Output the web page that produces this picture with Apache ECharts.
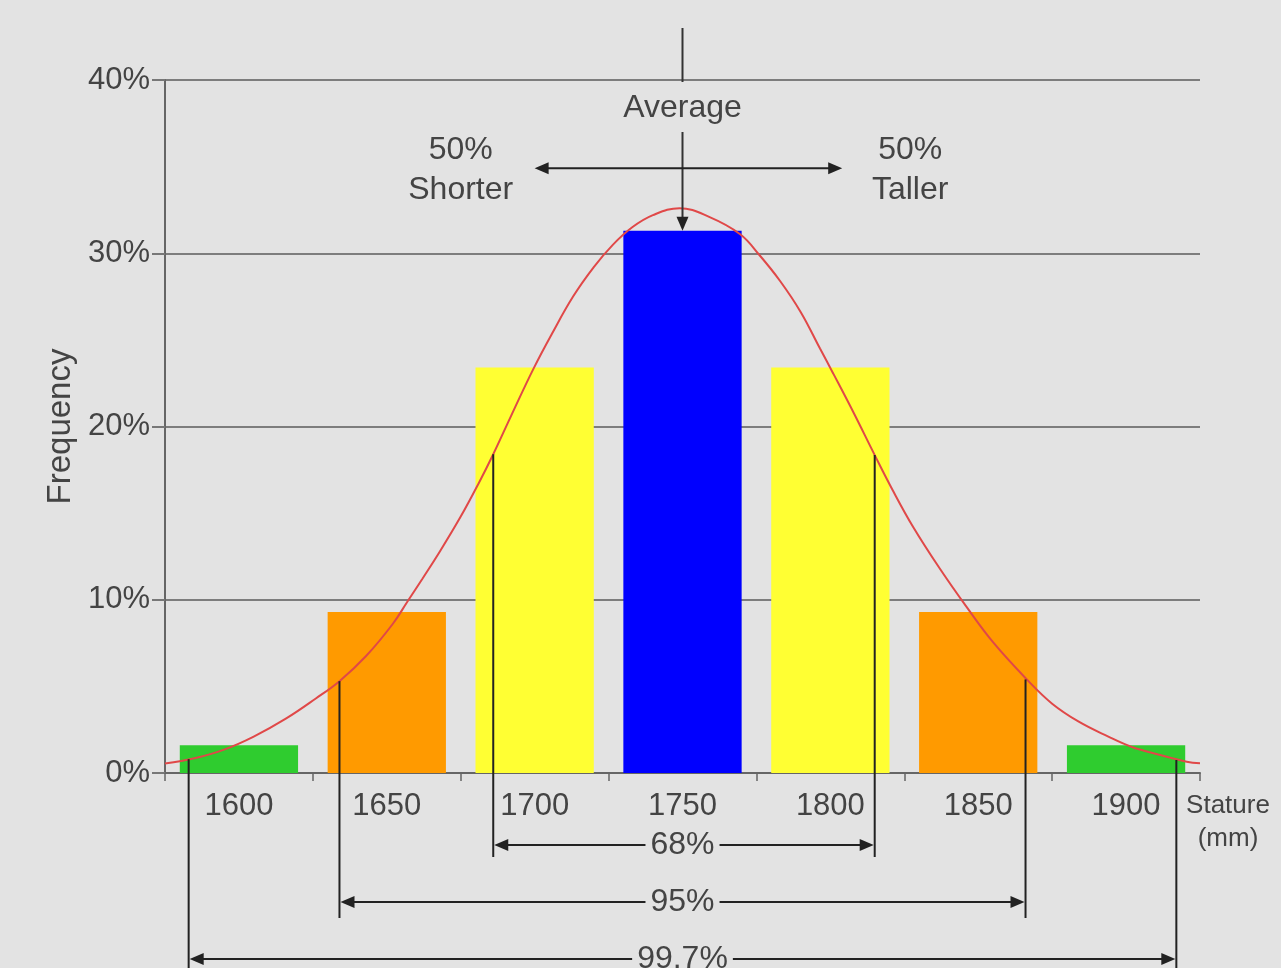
<!DOCTYPE html>
<html>
<head>
<meta charset="utf-8">
<script src="https://cdn.jsdelivr.net/npm/echarts@6/dist/echarts.min.js"></script>
<style>
  html, body { margin: 0; padding: 0; background: #e3e3e3; }
  #chart { width: 1281px; height: 968px; }
</style>
</head>
<body>
<div id="chart"></div>
<script>
// ---- data ----
const categories = ['1600', '1650', '1700', '1750', '1800', '1850', '1900'];
const frequency = [1.6, 9.3, 23.4, 31.3, 23.4, 9.3, 1.6];
const yTicks = [0, 10, 20, 30, 40];
// normal curve: stature (mm) and frequency (%)
const curveX = [1575, 1585, 1595, 1605, 1616, 1626, 1634, 1643, 1652, 1657, 1662, 1668, 1675, 1681, 1686, 1692, 1699.5,
                1706, 1713, 1720, 1726.5, 1733, 1740, 1749,
                1759, 1769.5, 1776, 1783, 1790, 1796.5, 1801, 1808, 1815, 1821, 1828, 1837, 1846, 1855, 1867, 1875,
                1884, 1894, 1902, 1911.5, 1920.5, 1925];
const curveY = [0.55, 0.85, 1.35, 2.1, 3.15, 4.3, 5.3, 6.75, 8.6, 9.9, 11.2, 12.8, 14.8, 16.7, 18.4, 20.6, 23.3,
                25.4, 27.5, 29.2, 30.5, 31.5, 32.2, 32.6,
                32.1, 31.1, 29.9, 28.4, 26.6, 24.5, 23.05, 20.75, 18.35, 16.35, 14.2, 11.8, 9.6, 7.55, 5.3, 4.0,
                2.96, 2.1, 1.5, 1.04, 0.65, 0.56];
// annotation anchors (stature mm, frequency %)
const meanStature = 1750;
const range68 = [1686, 1815], top68 = [18.4, 18.35];
const range95 = [1634, 1866], top95 = [5.3, 5.4];
const range997 = [1583, 1917], top997 = [0.8, 0.75];
const splitArrow = [1700, 1804], splitLevel = 34.9;
const shorterAt = 1675, tallerAt = 1827;

// ---- styles ----
const barColors = ['#2fcc2f', '#ff9a00', '#ffff33', '#0000ff', '#ffff33', '#ff9a00', '#2fcc2f'];
const FONT = '"Liberation Sans", Arial, sans-serif';
const TXT = '#444';
const BG = '#e3e3e3';

const chart = echarts.init(document.getElementById('chart'));
const option = {
  backgroundColor: BG,
  animation: false,
  grid: { left: 165, right: 81, top: 80, bottom: 195, containLabel: false },
  xAxis: [
    {
      type: 'category', data: categories, boundaryGap: true,
      axisLine: { lineStyle: { color: '#666', width: 2 } },
      axisTick: { show: true, length: 8, lineStyle: { color: '#666', width: 1.5 } },
      axisLabel: { color: TXT, fontSize: 31, fontFamily: FONT, margin: 18 },
      splitLine: { show: false }
    },
    { type: 'value', min: 1575, max: 1925, show: false, splitLine: { show: false } }
  ],
  yAxis: {
    type: 'value', min: 0, max: 40, interval: 10,
    name: 'Frequency', nameLocation: 'middle', nameGap: 88, nameRotate: 90,
    nameTextStyle: { color: TXT, fontSize: 33, fontFamily: FONT },
    axisLine: { show: true, lineStyle: { color: '#666', width: 2 } },
    axisTick: { show: true, length: 13, lineStyle: { color: '#777', width: 2 } },
    axisLabel: { color: TXT, fontSize: 31, fontFamily: FONT, margin: 15,
      formatter: v => (yTicks.indexOf(v) >= 0 ? v + '%' : '') },
    splitLine: { lineStyle: { color: '#7d7d7d', width: 2 } }
  },
  series: [
    {
      type: 'bar', xAxisIndex: 0, yAxisIndex: 0, barWidth: '80%', z: 2,
      data: frequency.map((v, i) => ({ value: v, itemStyle: { color: barColors[i] } }))
    },
    {
      type: 'line', xAxisIndex: 1, yAxisIndex: 0, smooth: 0.4, showSymbol: false, symbol: 'none', z: 5,
      lineStyle: { color: '#e04848', width: 2 },
      data: curveX.map((x, i) => [x, curveY[i]])
    }
  ]
};
chart.setOption(option);

// ---- annotations positioned through the chart's scales ----
function P(mm, pct) { return chart.convertToPixel({ seriesIndex: 1 }, [mm, pct]); }
const axisY = P(1575, 0)[1];
const LC = '#222';
const els = [];
function line(x1, y1, x2, y2, color) {
  els.push({ type: 'line', z: 100, shape: { x1, y1, x2, y2 }, style: { stroke: color || LC, lineWidth: 2 } });
}
function head(x, y, dir) { // tip at (x,y)
  const L = 14, W = 6;
  let pts;
  if (dir === 'left') pts = [[x, y], [x + L, y - W], [x + L, y + W]];
  else if (dir === 'right') pts = [[x, y], [x - L, y - W], [x - L, y + W]];
  else pts = [[x, y], [x - W, y - L], [x + W, y - L]]; // down
  els.push({ type: 'polygon', z: 101, shape: { points: pts }, style: { fill: LC } });
}
function text(str, x, y, size, bg) {
  els.push({ type: 'text', z: 102, x, y, style: {
    text: str, fill: TXT, font: size + 'px ' + FONT, align: 'center', verticalAlign: 'middle',
    backgroundColor: bg || 'transparent', padding: bg ? [0, 5] : 0 } });
}
function bracket(range, tops, dy, bottomDy, label) {
  const a = P(range[0], tops[0]), b = P(range[1], tops[1]);
  const yb = axisY + bottomDy, ya = axisY + dy;
  line(a[0], a[1], a[0], yb);
  line(b[0], b[1], b[0], yb);
  line(a[0] + 4, ya, b[0] - 4, ya);
  head(a[0] + 1, ya, 'left');
  head(b[0] - 1, ya, 'right');
  text(label, P(meanStature, 0)[0], ya, 32, BG);
}
bracket(range68, top68, 72, 84, '68%');
bracket(range95, top95, 129, 145, '95%');
bracket(range997, top997, 186, 220, '99.7%');

// Average arrow
const xm = P(meanStature, 0)[0];
const tip = P(meanStature, frequency[3])[1];
line(xm, 28, xm, 82, '#333');
text('Average', xm, 108, 32);
line(xm, 132, xm, tip - 10, '#333');
head(xm, tip, 'down');

// 50% shorter / taller arrow
const s1 = P(splitArrow[0], splitLevel), s2 = P(splitArrow[1], splitLevel);
line(s1[0] + 4, s1[1], s2[0] - 4, s2[1]);
head(s1[0], s1[1], 'left');
head(s2[0], s2[1], 'right');
const xs = P(shorterAt, 0)[0], xt = P(tallerAt, 0)[0];
text('50%', xs, s1[1] - 18, 32);
text('Shorter', xs, s1[1] + 22, 32);
text('50%', xt, s1[1] - 18, 32);
text('Taller', xt, s1[1] + 22, 32);

// axis name on the right
const xEnd = P(1925, 0)[0];
text('Stature', xEnd + 28, axisY + 33, 26);
text('(mm)', xEnd + 28, axisY + 66, 26);

chart.setOption({ graphic: { elements: els } });
</script>
</body>
</html>
